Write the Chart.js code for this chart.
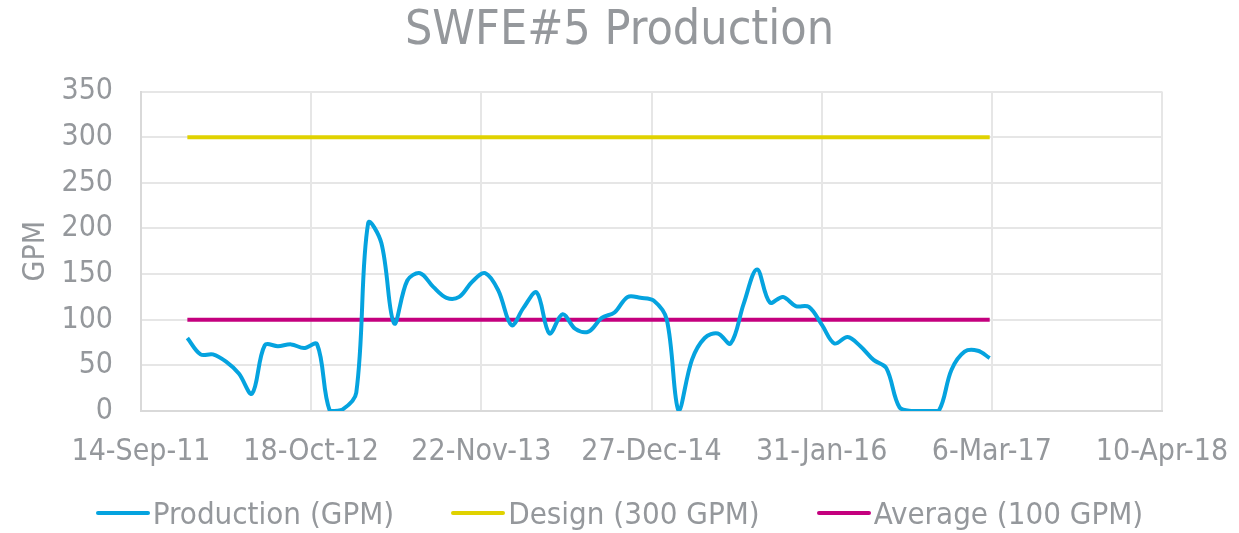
<!DOCTYPE html>
<html>
<head>
<meta charset="utf-8">
<title>SWFE#5 Production</title>
<script src="https://cdn.jsdelivr.net/npm/chart.js@4.4.1/dist/chart.umd.min.js"></script>
<style>
    html, body { margin: 0; padding: 0; background: #fff; }
    #wrap { position: relative; width: 1239px; height: 533px; }
    #legend {
        position: absolute; left: 0; right: 0; top: 493px;
        display: flex; justify-content: center; gap: 57px;
        font-family: 'DejaVu Sans Condensed', 'DejaVu Sans', sans-serif;
        font-size: 31px; color: #95989c; line-height: 40px;
    }
    #legend .item { display: flex; align-items: center; gap: 3px; }
    #legend .swatch { width: 54px; height: 4px; border-radius: 2px; }
</style>
</head>
<body>
<div id="wrap">
    <canvas id="prodChart"></canvas>
    <div id="legend"></div>
</div>
<script>
// monthly readings, Jan 2012 .. Mar 2017
const months = [
    "2012-01", "2012-02", "2012-03", "2012-04", "2012-05", "2012-06", "2012-07", "2012-08", "2012-09", "2012-10", "2012-11", "2012-12",
    "2013-01", "2013-02", "2013-03", "2013-04", "2013-05", "2013-06", "2013-07", "2013-08", "2013-09", "2013-10", "2013-11", "2013-12",
    "2014-01", "2014-02", "2014-03", "2014-04", "2014-05", "2014-06", "2014-07", "2014-08", "2014-09", "2014-10", "2014-11", "2014-12",
    "2015-01", "2015-02", "2015-03", "2015-04", "2015-05", "2015-06", "2015-07", "2015-08", "2015-09", "2015-10", "2015-11", "2015-12",
    "2016-01", "2016-02", "2016-03", "2016-04", "2016-05", "2016-06", "2016-07", "2016-08", "2016-09", "2016-10", "2016-11", "2016-12",
    "2017-01", "2017-02", "2017-03"
];
const production = [
    80, 62, 62, 54, 41, 19, 72, 71, 73, 69, 73, 0,
    2, 20, 206, 184, 96, 143, 151, 136, 124, 125, 142, 151,
    132, 94, 113, 130, 85, 106, 90, 87, 102, 108, 125, 124,
    121, 100, 0, 56, 80, 85, 74, 118, 155, 119, 125, 115,
    114, 94, 74, 81, 71, 56, 47, 4, 0, 0, 0, 45,
    65, 66, 58
];
const designLevel = [300, 300];
const averageLevel = [100, 100];
const yTicks = [0, 50, 100, 150, 200, 250, 300, 350];
const xStart = "2011-09-14";   // first date tick, then every 400 days
const xStepDays = 400;
const xTickCount = 7;

const MON = ["Jan", "Feb", "Mar", "Apr", "May", "Jun", "Jul", "Aug", "Sep", "Oct", "Nov", "Dec"];
const DAY = 86400000;
const t0 = Date.parse(xStart + "T00:00:00Z");

function dayOffset(s) {
    return Math.round((Date.parse(s + (s.length === 7 ? "-01" : "") + "T00:00:00Z") - t0) / DAY);
}

function fmtDate(v) {
    const d = new Date(t0 + v * DAY);
    return d.getUTCDate() + "-" + MON[d.getUTCMonth()] + "-" + String(d.getUTCFullYear()).slice(2);
}

const prodPoints = months.map((m, i) => ({ x: dayOffset(m), y: production[i] }));
const ends = [dayOffset(months[0]), dayOffset(months[months.length - 1])];

const GREY = "#95989c";
const FONT = "'DejaVu Sans Condensed', 'DejaVu Sans', sans-serif";

/* legend built in html from the chart's own legend items */
const htmlLegend = {
    id: "htmlLegend",
    afterUpdate(chart) {
        const box = document.getElementById("legend");
        box.innerHTML = "";
        const items = chart.options.plugins.legend.labels.generateLabels(chart);
        items.forEach(item => {
            const el = document.createElement("div");
            el.className = "item";
            const sw = document.createElement("span");
            sw.className = "swatch";
            sw.style.background = item.strokeStyle;
            const txt = document.createElement("span");
            txt.textContent = item.text;
            el.appendChild(sw);
            el.appendChild(txt);
            box.appendChild(el);
        });
    }
};

new Chart(document.getElementById("prodChart"), {
    type: "line",
    data: {
        datasets: [
            {
                label: "Production (GPM)",
                data: prodPoints,
                borderColor: "#05a3df",
                backgroundColor: "#05a3df",
                borderWidth: 4,
                pointRadius: 0,
                tension: 0.35
            },
            {
                label: "Design (300 GPM)",
                data: ends.map((x, i) => ({ x: x, y: designLevel[i] })),
                borderColor: "#e0d200",
                backgroundColor: "#e0d200",
                borderWidth: 4,
                pointRadius: 0
            },
            {
                label: "Average (100 GPM)",
                data: ends.map((x, i) => ({ x: x, y: averageLevel[i] })),
                borderColor: "#c4007e",
                backgroundColor: "#c4007e",
                borderWidth: 4,
                pointRadius: 0
            }
        ]
    },
    plugins: [htmlLegend],
    options: {
        responsive: true,
        maintainAspectRatio: false,
        animation: false,
        layout: { padding: { left: 0, right: 0, top: 0, bottom: 62 } },
        plugins: {
            title: {
                display: true,
                text: "SWFE#5 Production",
                color: GREY,
                font: { family: FONT, size: 48, weight: "normal" },
                padding: { top: 3, bottom: 31 }
            },
            legend: { display: false },
            tooltip: { enabled: false }
        },
        scales: {
            x: {
                type: "linear",
                min: 0,
                max: xStepDays * (xTickCount - 1),
                border: { color: "#d9d9d9", width: 2 },
                grid: { color: "#e6e6e6", lineWidth: 2, drawTicks: false },
                ticks: {
                    stepSize: xStepDays,
                    color: GREY,
                    padding: 23,
                    maxRotation: 0,
                    autoSkip: false,
                    font: { family: FONT, size: 30 },
                    callback: v => fmtDate(v)
                },
                afterFit: scale => {
                    scale.height = 60;
                    scale.paddingRight = 77;
                }
            },
            y: {
                min: yTicks[0],
                max: yTicks[yTicks.length - 1],
                border: { color: "#d9d9d9", width: 2 },
                grid: { color: "#e6e6e6", lineWidth: 2, drawTicks: false },
                title: {
                    display: true,
                    text: "GPM",
                    color: GREY,
                    font: { family: FONT, size: 30 },
                    padding: { top: 18, bottom: 0 }
                },
                ticks: {
                    stepSize: 50,
                    color: GREY,
                    padding: 28,
                    font: { family: FONT, size: 30 }
                },
                afterFit: scale => { scale.width = 141; }
            }
        }
    }
});
</script>
</body>
</html>
